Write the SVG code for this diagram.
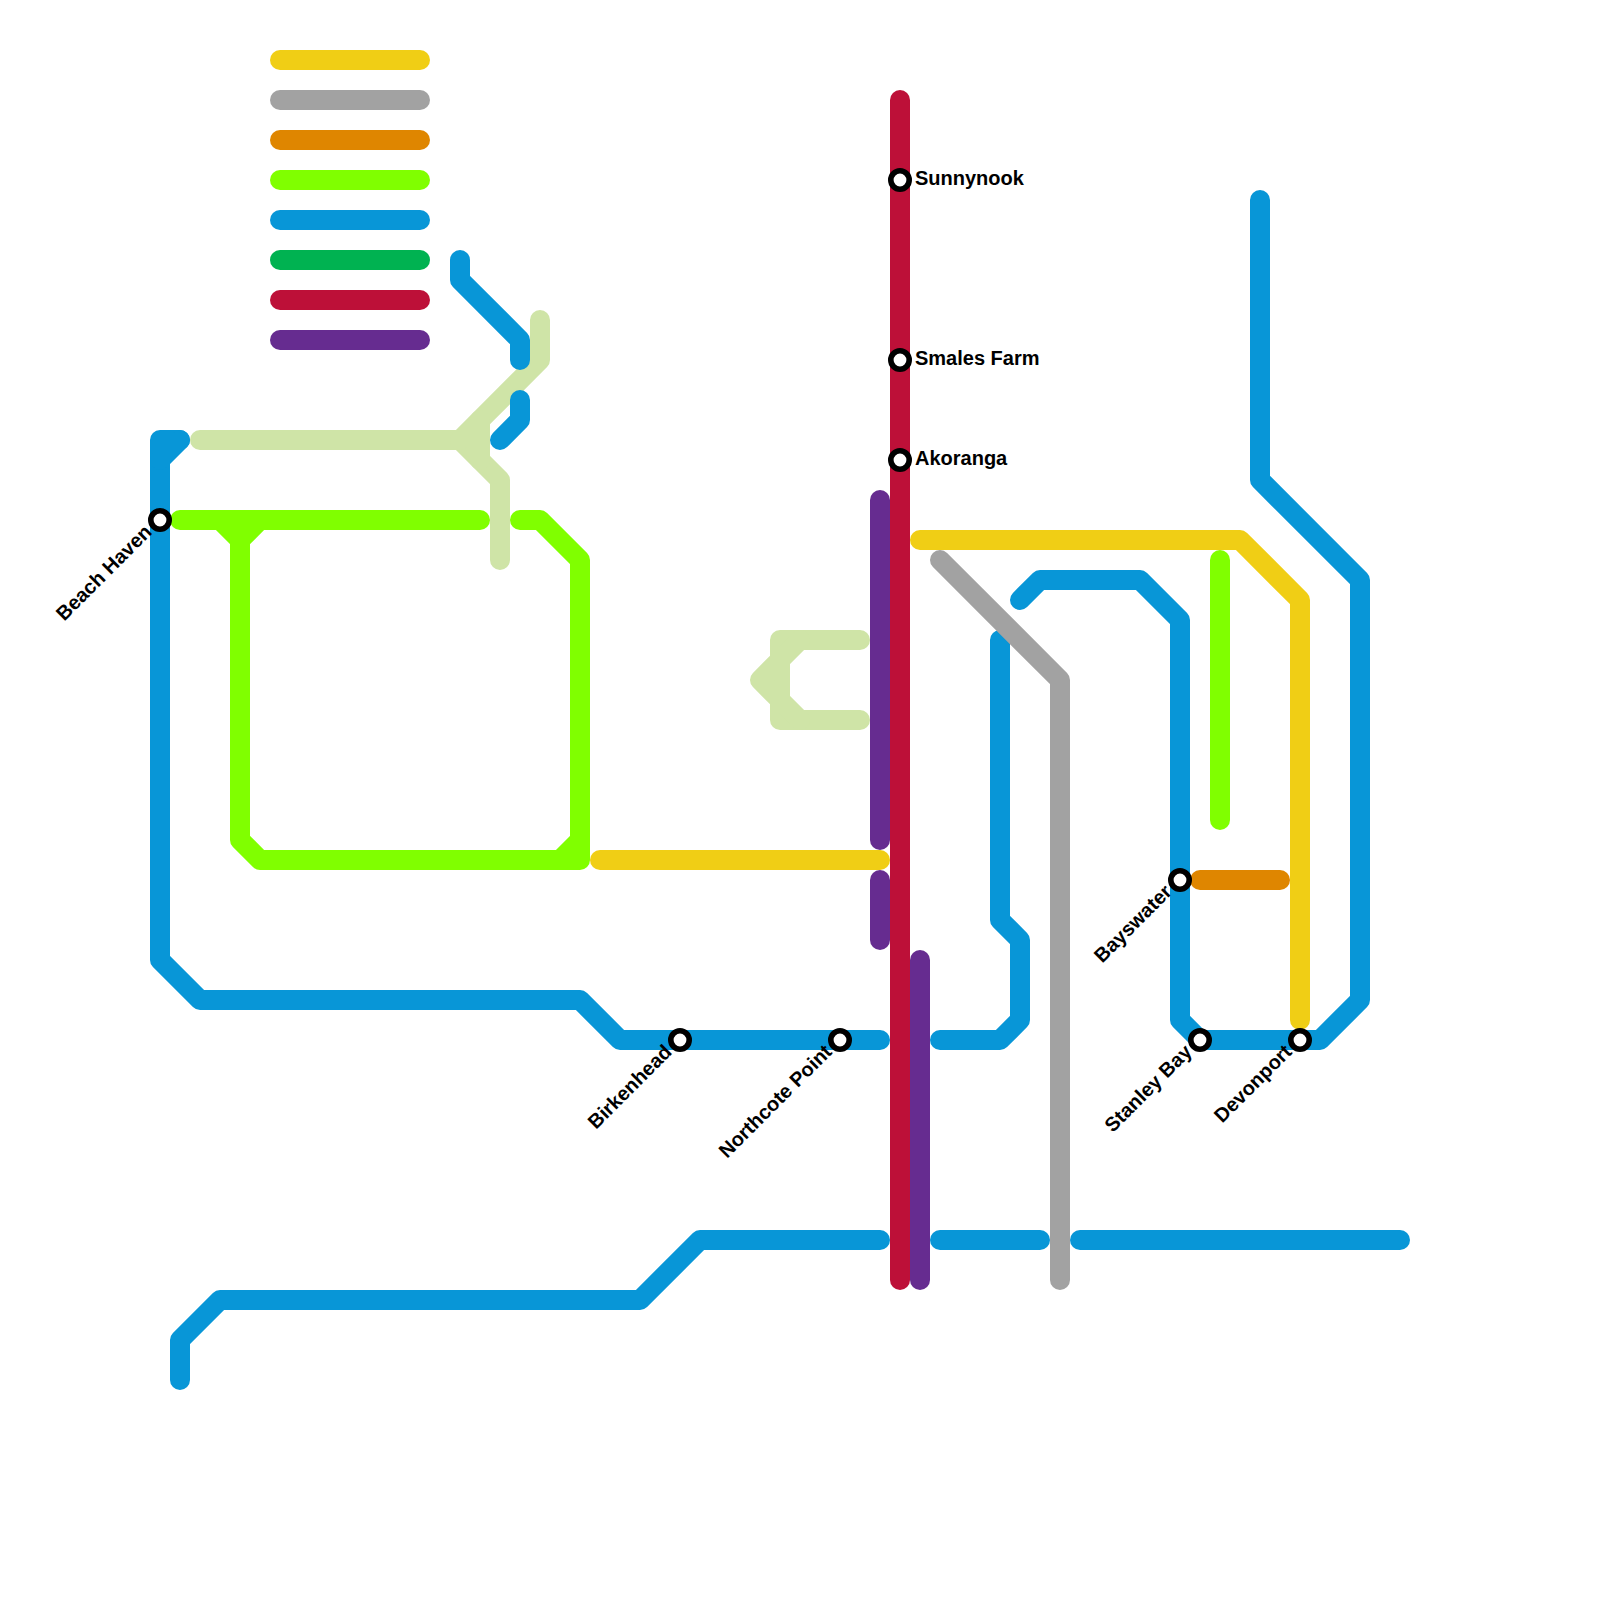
<svg xmlns="http://www.w3.org/2000/svg" width="1600" height="1600" viewBox="0 0 1600 1600">
<style>
.l{fill:none;stroke-width:20;stroke-linecap:round;stroke-linejoin:round}
.y{stroke:#f0ce15}.g{stroke:#a2a2a2}.o{stroke:#df8600}.n{stroke:#80ff00}.b{stroke:#0896d7}.d{stroke:#00b251}.r{stroke:#bd1038}.p{stroke:#662c90}.c{stroke:#cfe4a7}
.s{fill:#fff;stroke:#000;stroke-width:5.6}
text{font-family:"Liberation Sans",Arial,sans-serif;font-weight:700;font-size:20px;fill:#000}
.e{text-anchor:end}
</style>
<rect width="1600" height="1600" fill="#fff"/>
<g id="connectors">
<g id="legend">
<path class="l y" d="M280 60H420"/><path class="l g" d="M280 100H420"/><path class="l o" d="M280 140H420"/><path class="l n" d="M280 180H420"/><path class="l b" d="M280 220H420"/><path class="l d" d="M280 260H420"/><path class="l r" d="M280 300H420"/><path class="l p" d="M280 340H420"/>
</g>
<path class="l c" d="M200 440H460L500 480V560"/>
<path class="l c" d="M460 440L540 360V320"/>
<path class="l c" d="M480 420V460"/>
<path class="l c" d="M860 640H780V720H860"/>
<path class="l c" d="M800 640L760 680L800 720"/>
<path class="l n" d="M180 520H480"/>
<path class="l n" d="M520 520H540L580 560V860H260L240 840V540L220 520"/>
<path class="l n" d="M240 540L260 520"/>
<path class="l n" d="M560 860L580 840"/>
<path class="l n" d="M1220 560V820"/>
<path class="l b" d="M460 260V280L520 340V360"/>
<path class="l b" d="M500 440L520 420V400"/>
<path class="l b" d="M180 440H160V960L200 1000H580L620 1040H880"/>
<path class="l b" d="M180 440L160 460"/>
<path class="l b" d="M1000 640V920L1020 940V1020L1000 1040H940"/>
<path class="l b" d="M1020 600L1040 580H1140L1180 620V1020L1200 1040H1320L1360 1000V580L1260 480V200"/>
<path class="l b" d="M180 1380V1340L220 1300H640L700 1240H880"/>
<path class="l b" d="M940 1240H1040"/>
<path class="l b" d="M1080 1240H1400"/>
<path class="l p" d="M880 500V840"/>
<path class="l p" d="M880 880V940"/>
<path class="l p" d="M920 960V1280"/>
<path class="l r" d="M900 100V1280"/>
<path class="l y" d="M600 860H880"/>
<path class="l y" d="M920 540H1240L1300 600V1020"/>
<path class="l g" d="M940 560L1060 680V1280"/>
<path class="l o" d="M1200 880H1280"/>
</g>
<g id="beach-haven"><circle class="s" cx="160" cy="520" r="9.2"/><text class="e" transform="translate(153 533) rotate(-45)">Beach Haven</text></g>
<g id="sunnynook"><circle class="s" cx="900" cy="180" r="9.2"/><text x="915" y="185">Sunnynook</text></g>
<g id="smales-farm"><circle class="s" cx="900" cy="360" r="9.2"/><text x="915" y="365">Smales Farm</text></g>
<g id="akoranga"><circle class="s" cx="900" cy="460" r="9.2"/><text x="915" y="465">Akoranga</text></g>
<g id="bayswater"><circle class="s" cx="1180" cy="880" r="9.2"/><text class="e" transform="translate(1173 893) rotate(-45)">Bayswater</text></g>
<g id="stanley-bay"><circle class="s" cx="1200" cy="1040" r="9.2"/><text class="e" transform="translate(1193 1053) rotate(-45)">Stanley Bay</text></g>
<g id="devonport"><circle class="s" cx="1300" cy="1040" r="9.2"/><text class="e" transform="translate(1293 1053) rotate(-45)">Devonport</text></g>
<g id="birkenhead"><circle class="s" cx="680" cy="1040" r="9.2"/><text class="e" transform="translate(673 1053) rotate(-45)">Birkenhead</text></g>
<g id="northcote-point"><circle class="s" cx="840" cy="1040" r="9.2"/><text class="e" transform="translate(833 1053) rotate(-45)">Northcote Point</text></g>
</svg>
